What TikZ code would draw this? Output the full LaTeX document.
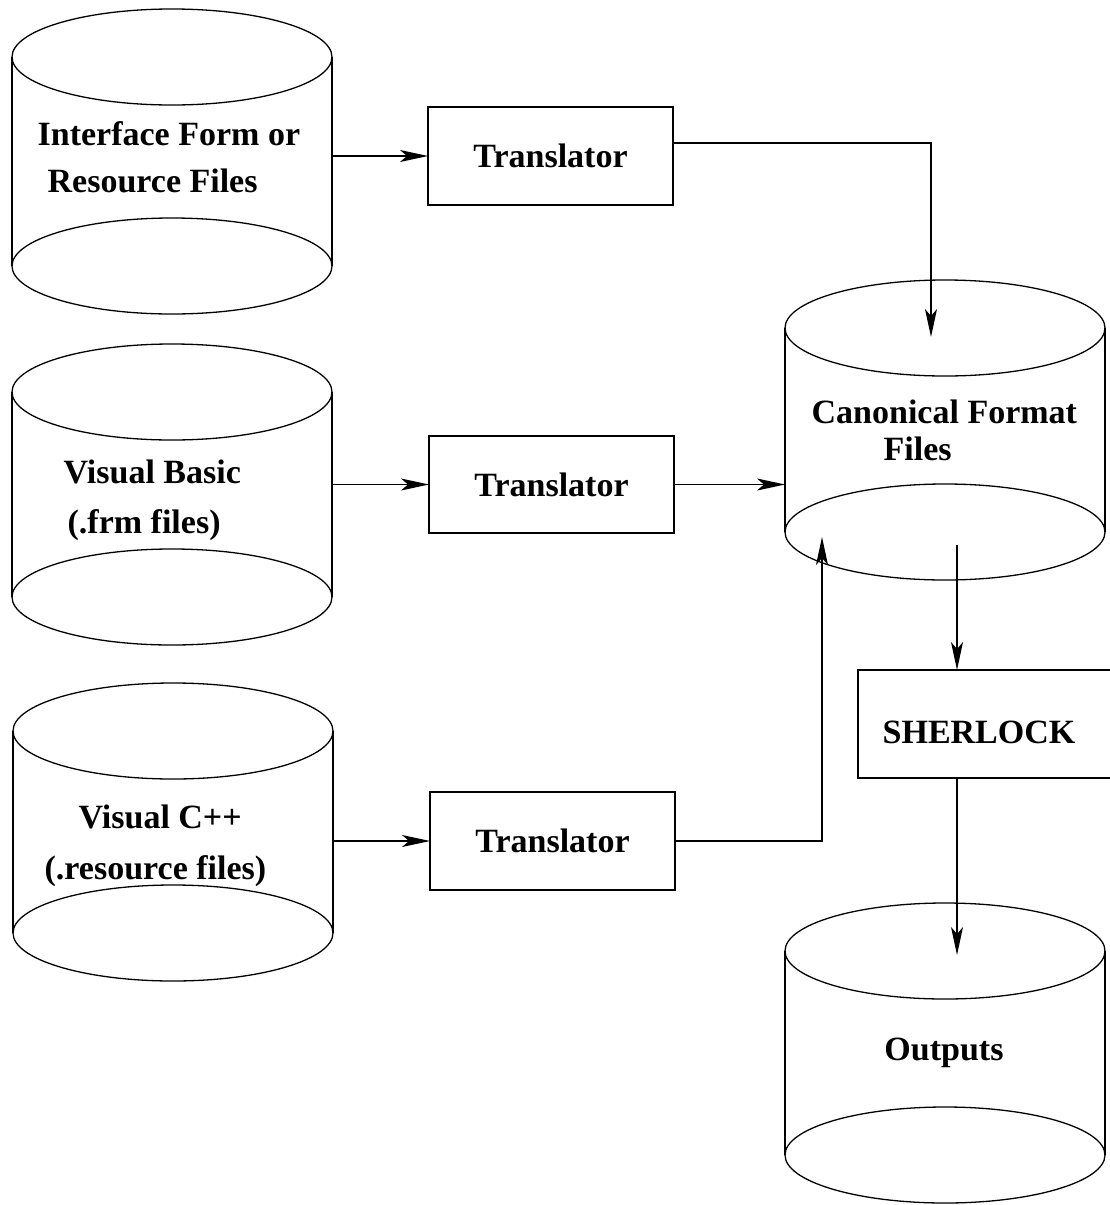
\documentclass[tikz,border=0pt]{standalone}
\usepackage{fontspec}
\setmainfont{Liberation Serif}
\usetikzlibrary{arrows.meta,calc}
\newcommand\drawcyl[4]{%
  \node[cylbody,minimum height={(#4-#3)*1pt}] (#1) at (#2,{(#3+#4)/2}) {};
  \draw (#1.north) ellipse [x radius=160pt,y radius=48pt];
  \draw (#1.south) ellipse [x radius=160pt,y radius=48pt];
  \draw (#1.north west) -- (#1.south west) (#1.north east) -- (#1.south east);
}
\begin{document}
\begin{tikzpicture}[x=1pt,y=-1pt,
  line width=1.3pt,
  font=\fontsize{34}{47}\selectfont\bfseries,
  cylbody/.style={rectangle,draw=none,minimum width=320pt,inner sep=0pt,outer sep=0pt},
  proc/.style={rectangle,draw,inner sep=0pt,outer sep=0pt},
  lbl/.style={inner sep=0pt,align=left,anchor=west},
  arr/.style={-{Stealth[length=28pt,width=12pt,inset=7pt]}}]
\useasboundingbox (0,0) rectangle (1109,1205);

% cylinders
\drawcyl{src1}{172}{57}{266}
\drawcyl{src2}{172}{392}{597}
\drawcyl{src3}{173}{731}{933}
\drawcyl{canon}{945}{328}{532}
\drawcyl{out}{945}{951}{1155}

% cylinder labels
\node[lbl] (l1) at (37,157) {Interface Form or\\\hspace*{10pt}Resource Files};
\node[lbl,font=\fontsize{34}{50}\selectfont\bfseries] (l2) at (63,500) {Visual Basic\\\hspace*{4pt}(.frm files)};
\node[lbl,font=\fontsize{34}{51}\selectfont\bfseries] (l3) at (44,846) {\hspace*{34pt}Visual C++\\(.resource files)};
\node[lbl,font=\fontsize{34}{37}\selectfont\bfseries] (l4) at (811,430) {Canonical Format\\\hspace*{72pt}Files};
\node[anchor=base,inner sep=0pt] (l5) at (944,1060) {Outputs};

% process boxes
\node[proc,minimum width=245pt,minimum height=98pt] (t1) at (550.5,156) {Translator};
\node[proc,minimum width=245pt,minimum height=97pt] (t2) at (551.5,484.5) {Translator};
\node[proc,minimum width=245pt,minimum height=98pt] (t3) at (552.5,841) {Translator};
\node[proc,minimum width=254pt,minimum height=108pt,text height=38.5pt] (sh) at (985,724) {SHERLOCK\hspace*{12pt}};

% helper coordinates
\coordinate (c1in) at ([xshift=-14pt,yshift=-9pt]canon.north);
\coordinate (c3in) at ([xshift=-123pt,yshift=-5pt]canon.south);
\coordinate (cout) at ([xshift=12pt,yshift=-13pt]canon.south);
\coordinate (oin) at ([xshift=12pt,yshift=-4pt]out.north);

% connectors
\draw[arr] (t1.west -| src1.east) -- (t1.west);
\draw[arr] ([yshift=13pt]t1.east) -| (c1in);
\draw[arr] (t2.west -| src2.east) -- (t2.west);
\draw[arr] (t2.east) -- (t2.east -| canon.west);
\draw[arr] (t3.west -| src3.east) -- (t3.west);
\draw[arr] (t3.east) -| (c3in);
\draw[arr] (cout) -- (cout |- sh.north);
\draw[arr] (oin |- sh.south) -- (oin);
\end{tikzpicture}
\end{document}
